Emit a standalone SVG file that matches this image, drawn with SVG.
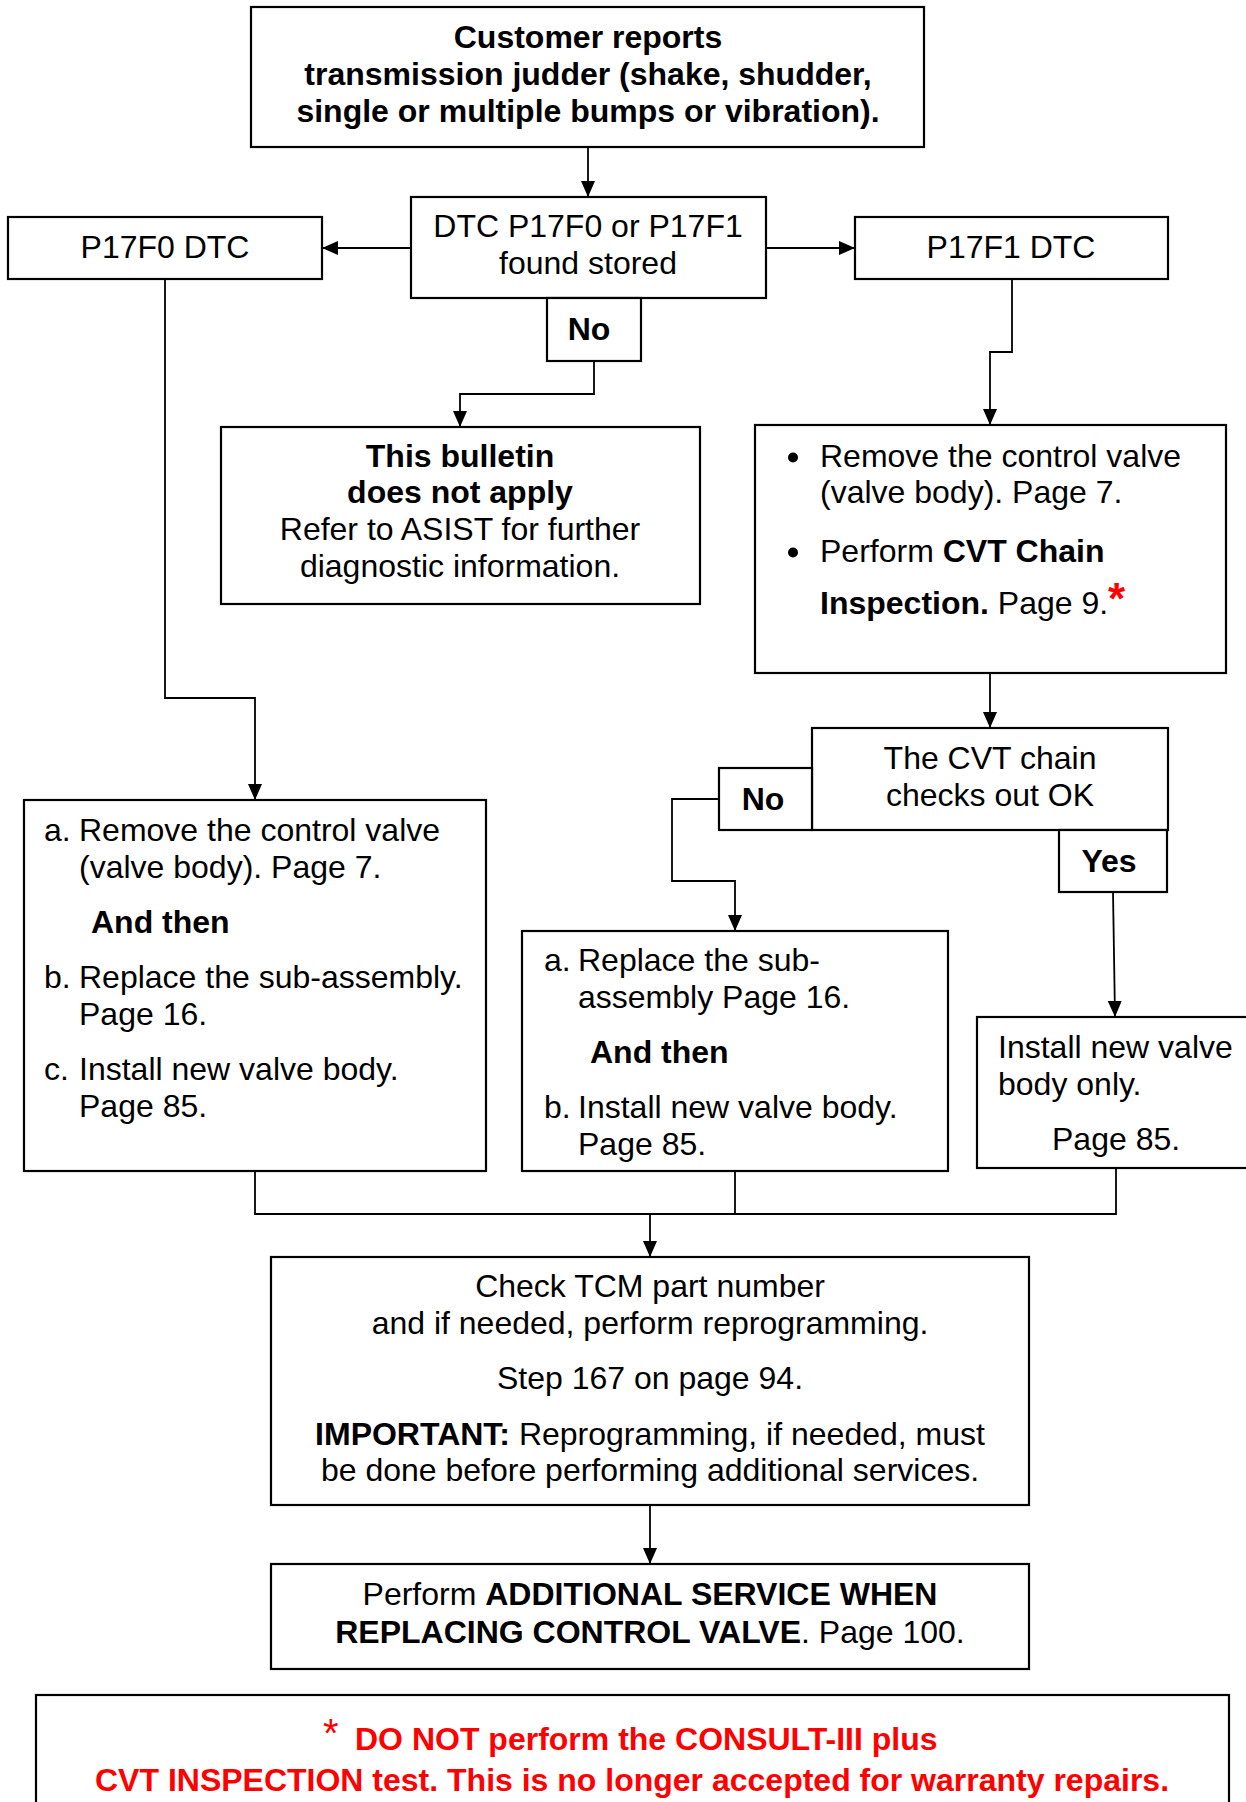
<svg xmlns="http://www.w3.org/2000/svg" width="1246" height="1802" viewBox="0 0 1246 1802">
<style>
  text { font-family: "Liberation Sans", Arial, sans-serif; font-size: 32px; fill: #000; }
  .b { font-weight: bold; }
  .c { text-anchor: middle; }
  .box { fill: #fff; stroke: #000; stroke-width: 2.2; }
  .conn { fill: none; stroke: #000; stroke-width: 1.8; }
  .red { fill: #ff0000; font-weight: bold; }
  .star { fill: #ff0000; font-size: 40px; }
</style>
<defs>
  <marker id="arr" markerUnits="userSpaceOnUse" markerWidth="16" markerHeight="18" viewBox="0 0 16 18" refX="16" refY="7" orient="auto">
    <path d="M0,0 L16,7 L0,14 Z" fill="#000"/>
  </marker>
</defs>

<g id="connectors">
  <line class="conn" x1="588" y1="147" x2="588" y2="197" marker-end="url(#arr)"/>
  <line class="conn" x1="411" y1="248" x2="322" y2="248" marker-end="url(#arr)"/>
  <line class="conn" x1="766" y1="248" x2="855" y2="248" marker-end="url(#arr)"/>
  <polyline class="conn" points="594,361 594,394 460,394 460,427" marker-end="url(#arr)"/>
  <polyline class="conn" points="1012,279 1012,352 990,352 990,425" marker-end="url(#arr)"/>
  <polyline class="conn" points="165,279 165,698 255,698 255,800" marker-end="url(#arr)"/>
  <line class="conn" x1="990" y1="673" x2="990" y2="728" marker-end="url(#arr)"/>
  <polyline class="conn" points="719,799 672,799 672,881 735,881 735,931" marker-end="url(#arr)"/>
  <line class="conn" x1="1113" y1="892" x2="1115" y2="1017" marker-end="url(#arr)"/>
  <polyline class="conn" points="255,1171 255,1214 1116,1214 1116,1168"/>
  <line class="conn" x1="735" y1="1171" x2="735" y2="1214"/>
  <line class="conn" x1="650" y1="1214" x2="650" y2="1257" marker-end="url(#arr)"/>
  <line class="conn" x1="650" y1="1505" x2="650" y2="1564" marker-end="url(#arr)"/>
</g>

<g id="n-top">
  <rect class="box" x="251" y="7" width="673" height="140"/>
  <text class="b c" x="588" y="48">Customer reports</text>
  <text class="b c" x="588" y="85">transmission judder (shake, shudder,</text>
  <text class="b c" x="588" y="122">single or multiple bumps or vibration).</text>
</g>

<g id="n-dtc">
  <rect class="box" x="411" y="197" width="355" height="101"/>
  <text class="c" x="588" y="237">DTC P17F0 or P17F1</text>
  <text class="c" x="588" y="274">found stored</text>
</g>

<g id="n-p17f0">
  <rect class="box" x="8" y="217" width="314" height="62"/>
  <text class="c" x="165" y="258">P17F0 DTC</text>
</g>

<g id="n-p17f1">
  <rect class="box" x="855" y="217" width="313" height="62"/>
  <text class="c" x="1011" y="258">P17F1 DTC</text>
</g>

<g id="n-no1">
  <rect class="box" x="547" y="298" width="94" height="63"/>
  <text class="b c" x="589" y="340">No</text>
</g>

<g id="n-bulletin">
  <rect class="box" x="221" y="427" width="479" height="177"/>
  <text class="b c" x="460" y="467">This bulletin</text>
  <text class="b c" x="460" y="503">does not apply</text>
  <text class="c" x="460" y="540">Refer to ASIST for further</text>
  <text class="c" x="460" y="577">diagnostic information.</text>
</g>

<g id="n-cvtinspect">
  <rect class="box" x="755" y="425" width="471" height="248"/>
  <circle cx="793" cy="457.5" r="5"/>
  <text x="820" y="467">Remove the control valve</text>
  <text x="820" y="503">(valve body). Page 7.</text>
  <circle cx="793" cy="552.5" r="5"/>
  <text x="820" y="562">Perform <tspan class="b">CVT Chain</tspan></text>
  <text x="820" y="614"><tspan class="b">Inspection.</tspan> Page 9.<tspan class="red" font-size="44">*</tspan></text>
</g>

<g id="n-cvtok">
  <rect class="box" x="812" y="728" width="356" height="102"/>
  <text class="c" x="990" y="769">The CVT chain</text>
  <text class="c" x="990" y="806">checks out OK</text>
</g>

<g id="n-no2">
  <rect class="box" x="719" y="768" width="93" height="62"/>
  <text class="b c" x="763" y="810">No</text>
</g>

<g id="n-yes">
  <rect class="box" x="1059" y="830" width="108" height="62"/>
  <text class="b c" x="1109" y="872">Yes</text>
</g>

<g id="n-left">
  <rect class="box" x="24" y="800" width="462" height="371"/>
  <text x="44" y="841">a.</text>
  <text x="79" y="841">Remove the control valve</text>
  <text x="79" y="878">(valve body). Page 7.</text>
  <text class="b" x="91" y="933">And then</text>
  <text x="44" y="988">b.</text>
  <text x="79" y="988">Replace the sub-assembly.</text>
  <text x="79" y="1025">Page 16.</text>
  <text x="44" y="1080">c.</text>
  <text x="79" y="1080">Install new valve body.</text>
  <text x="79" y="1117">Page 85.</text>
</g>

<g id="n-mid">
  <rect class="box" x="522" y="931" width="426" height="240"/>
  <text x="544" y="971">a.</text>
  <text x="578" y="971">Replace the sub-</text>
  <text x="578" y="1008">assembly Page 16.</text>
  <text class="b" x="590" y="1063">And then</text>
  <text x="544" y="1118">b.</text>
  <text x="578" y="1118">Install new valve body.</text>
  <text x="578" y="1155">Page 85.</text>
</g>

<g id="n-rightsmall">
  <rect class="box" x="977" y="1017" width="290" height="151"/>
  <text x="998" y="1058">Install new valve</text>
  <text x="998" y="1095">body only.</text>
  <text x="1052" y="1150">Page 85.</text>
</g>

<g id="n-tcm">
  <rect class="box" x="271" y="1257" width="758" height="248"/>
  <text class="c" x="650" y="1297">Check TCM part number</text>
  <text class="c" x="650" y="1334">and if needed, perform reprogramming.</text>
  <text class="c" x="650" y="1389">Step 167 on page 94.</text>
  <text class="c" x="650" y="1445"><tspan class="b">IMPORTANT:</tspan> Reprogramming, if needed, must</text>
  <text class="c" x="650" y="1481">be done before performing additional services.</text>
</g>

<g id="n-additional">
  <rect class="box" x="271" y="1564" width="758" height="105"/>
  <text class="c" x="650" y="1605">Perform <tspan class="b">ADDITIONAL SERVICE WHEN</tspan></text>
  <text class="c" x="650" y="1643"><tspan class="b">REPLACING CONTROL VALVE</tspan>. Page 100.</text>
</g>

<g id="n-note">
  <rect class="box" x="36" y="1695" width="1193" height="130"/>
  <text class="star" x="323" y="1747">*</text>
  <text class="red" x="355" y="1750">DO NOT perform the CONSULT-III plus</text>
  <text class="red c" x="632" y="1791">CVT INSPECTION test. This is no longer accepted for warranty repairs.</text>
</g>
</svg>
